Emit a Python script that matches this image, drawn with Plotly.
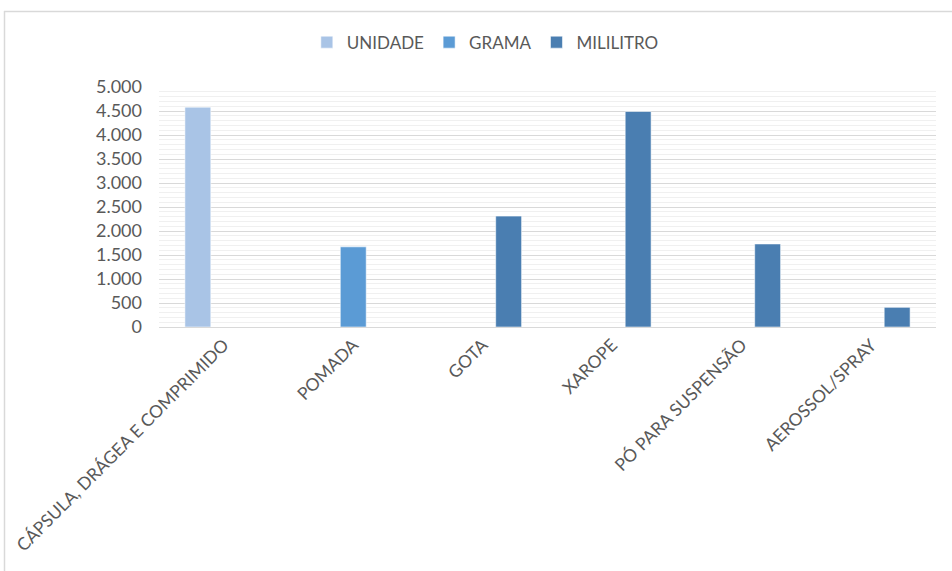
import plotly.graph_objects as go

categories = [
    "CÁPSULA, DRÁGEA E COMPRIMIDO",
    "POMADA",
    "GOTA",
    "XAROPE",
    "PÓ PARA SUSPENSÃO",
    "AEROSSOL/SPRAY",
]
unidade = [4580, None, None, None, None, None]
grama = [None, 1670, None, None, None, None]
mililitro = [None, None, 2310, 4490, 1730, 410]

y_ticks = [0, 500, 1000, 1500, 2000, 2500, 3000, 3500, 4000, 4500, 5000]
y_tick_labels = ["0", "500", "1.000", "1.500", "2.000", "2.500", "3.000",
                 "3.500", "4.000", "4.500", "5.000"]

series = [
    ("UNIDADE", unidade, "#a9c4e6"),
    ("GRAMA", grama, "#5b9bd5"),
    ("MILILITRO", mililitro, "#4a7eb1"),
]

FONT = "Lato, Carlito, Calibri, sans-serif"
TEXT = "#595959"

fig = go.Figure()
for name, vals, color in series:
    fig.add_trace(go.Bar(
        name=name, x=categories, y=vals,
        marker=dict(color=color, line=dict(color="rgba(255,255,255,0.55)", width=1)),
    ))

fig.update_layout(
    width=952, height=571,
    margin=dict(l=159, r=16, t=87, b=244),
    paper_bgcolor="white", plot_bgcolor="white",
    barmode="group", bargap=0.4, bargroupgap=0,
    font=dict(family=FONT, color=TEXT, size=16),
    legend=dict(
        orientation="h", x=0.42, xanchor="center", y=1.185, yanchor="middle",
        font=dict(size=17, color=TEXT), itemwidth=30, traceorder="normal",
    ),
    xaxis=dict(
        showline=True, linecolor="#d9d9d9", linewidth=1,
        tickangle=-45, ticks="", tickfont=dict(size=17.5, color=TEXT),
        showgrid=False,
    ),
    yaxis=dict(
        range=[0, 5000], tickvals=y_ticks, ticktext=y_tick_labels,
        tickfont=dict(size=18, color=TEXT), ticks="", ticklabelstandoff=16,
        showgrid=True, gridcolor="#d9d9d9", gridwidth=1,
        zeroline=False, showline=False,
        minor=dict(dtick=100, showgrid=True, gridcolor="#f0f0f0", gridwidth=1),
    ),
    shapes=[
        # chart-area frame: top and left edges
        dict(type="line", xref="paper", yref="paper",
             x0=(4 - 159) / 777, x1=(952 - 159) / 777,
             y0=(327 - 11.5) / 240, y1=(327 - 11.5) / 240,
             line=dict(color="#d9d9d9", width=1.5)),
        dict(type="line", xref="paper", yref="paper",
             x0=(4.5 - 159) / 777, x1=(4.5 - 159) / 777,
             y0=(327 - 11) / 240, y1=(327 - 580) / 240,
             line=dict(color="#d9d9d9", width=1.5)),
    ],
)

fig.write_html("out.html")
